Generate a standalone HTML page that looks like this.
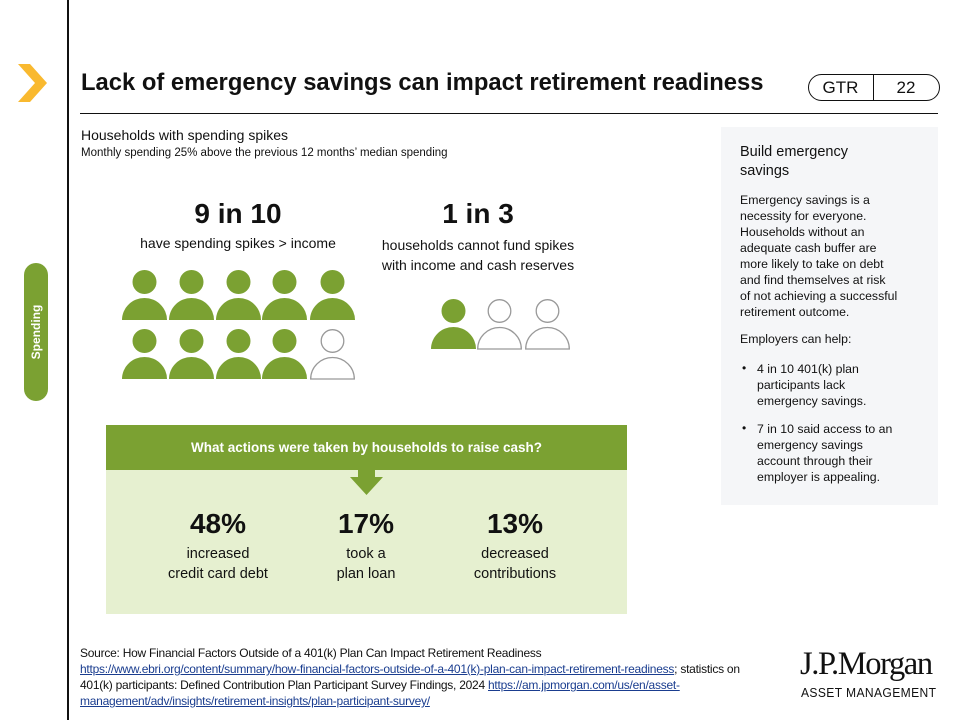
<!DOCTYPE html>
<html><head><meta charset="utf-8"><style>
*{margin:0;padding:0;box-sizing:border-box}
body{width:960px;height:720px;background:#fff;position:relative;overflow:hidden;font-family:"Liberation Sans",sans-serif;color:#111}
.a{position:absolute;white-space:nowrap}
.c{text-align:center}
a{color:#1a3d8f;text-decoration:underline}
</style></head><body>
<div class="a" style="left:67px;top:0;width:1.5px;height:720px;background:#111"></div>
<svg class="a" style="left:16px;top:62px" width="34" height="44"><polygon points="2,2 14,2 31,21 14,40 2,40 19,21" fill="#f9b92f"/></svg>
<div class="a" style="left:24px;top:263px;width:24px;height:138px;border-radius:12px;background:#7ba132"></div>
<div class="a" style="left:36px;top:332px;transform:translate(-50%,-50%) rotate(-90deg);color:#fff;font-weight:bold;font-size:12px">Spending</div>
<div class="a" style="left:81px;top:69px;font-size:23.8px;font-weight:bold">Lack of emergency savings can impact retirement readiness</div>
<div class="a" style="left:808px;top:74px;width:132px;height:27px;border:1.3px solid #111;border-radius:14px"></div>
<div class="a" style="left:873px;top:74px;width:1.3px;height:27px;background:#111"></div>
<div class="a c" style="left:808px;top:78px;width:65px;font-size:17px">GTR</div>
<div class="a c" style="left:874px;top:78px;width:64px;font-size:17px">22</div>
<div class="a" style="left:80px;top:113px;width:858px;height:1.3px;background:#111"></div>
<div class="a" style="left:81px;top:127px;font-size:14px">Households with spending spikes</div>
<div class="a" style="left:81px;top:147px;font-size:11.5px">Monthly spending 25% above the previous 12 months’ median spending</div>
<div class="a c" style="left:118px;top:198px;width:240px;font-size:28px;font-weight:bold">9 in 10</div>
<div class="a c" style="left:108px;top:235px;width:260px;font-size:14px">have spending spikes &gt; income</div>
<div class="a c" style="left:378px;top:198px;width:200px;font-size:28px;font-weight:bold">1 in 3</div>
<div class="a c" style="left:368px;top:235px;width:220px;font-size:14px;line-height:20px;white-space:normal">households cannot fund spikes with income and cash reserves</div>
<svg class="a" style="left:0;top:0" width="700" height="420">
<defs>
<g id="pf"><circle cx="22.5" cy="0" r="12" fill="#7ba132"/><path d="M0,38 A22.5,22 0 0 1 45,38 Z" fill="#7ba132"/></g>
<g id="po"><circle cx="22.5" cy="0" r="11.3" fill="none" stroke="#999" stroke-width="1.3"/><path d="M0.7,38 A21.8,21.5 0 0 1 44.3,38 Z" fill="none" stroke="#999" stroke-width="1.3"/></g>
</defs>
<use href="#pf" x="122" y="282"/><use href="#pf" x="169" y="282"/><use href="#pf" x="216" y="282"/><use href="#pf" x="262" y="282"/><use href="#pf" x="310" y="282"/>
<use href="#pf" x="122" y="341"/><use href="#pf" x="169" y="341"/><use href="#pf" x="216" y="341"/><use href="#pf" x="262" y="341"/><use href="#po" x="310" y="341"/>
<use href="#pf" x="431" y="311"/><use href="#po" x="477" y="311"/><use href="#po" x="525" y="311"/>
</svg>
<div class="a" style="left:106px;top:425px;width:521px;height:45px;background:#7ba132"></div>
<div class="a c" style="left:106px;top:440px;width:521px;color:#fff;font-weight:bold;font-size:13.5px">What actions were taken by households to raise cash?</div>
<div class="a" style="left:106px;top:470px;width:521px;height:144px;background:#e6f0d0"></div>
<svg class="a" style="left:348px;top:470px" width="40" height="26"><polygon points="10,0 27,0 27,7 35,7 18.5,25 2,7 10,7" fill="#7ba132"/></svg>
<div class="a c" style="left:138px;top:508px;width:160px;font-size:28px;font-weight:bold">48%</div>
<div class="a c" style="left:138px;top:544px;width:160px;font-size:14.5px;line-height:20px">increased<br>credit card debt</div>
<div class="a c" style="left:286px;top:508px;width:160px;font-size:28px;font-weight:bold">17%</div>
<div class="a c" style="left:286px;top:544px;width:160px;font-size:14.5px;line-height:20px">took a<br>plan loan</div>
<div class="a c" style="left:435px;top:508px;width:160px;font-size:28px;font-weight:bold">13%</div>
<div class="a c" style="left:435px;top:544px;width:160px;font-size:14.5px;line-height:20px">decreased<br>contributions</div>
<div class="a" style="left:721px;top:127px;width:217px;height:378px;background:#f5f6f8"></div>
<div class="a" style="left:740px;top:143px;font-size:14.5px;line-height:19px">Build emergency<br>savings</div>
<div class="a" style="left:740px;top:192px;font-size:12.3px;line-height:16px">Emergency savings is a<br>necessity for everyone.<br>Households without an<br>adequate cash buffer are<br>more likely to take on debt<br>and find themselves at risk<br>of not achieving a successful<br>retirement outcome.</div>
<div class="a" style="left:740px;top:332px;font-size:12.3px">Employers can help:</div>
<div class="a" style="left:742px;top:361px;font-size:12px">•</div>
<div class="a" style="left:757px;top:361px;font-size:12.3px;line-height:16px">4 in 10 401(k) plan<br>participants lack<br>emergency savings.</div>
<div class="a" style="left:742px;top:421px;font-size:12px">•</div>
<div class="a" style="left:757px;top:421px;font-size:12.3px;line-height:16px">7 in 10 said access to an<br>emergency savings<br>account through their<br>employer is appealing.</div>
<div class="a" style="left:80px;top:645px;font-size:12px;line-height:16px;letter-spacing:-0.25px">Source: How Financial Factors Outside of a 401(k) Plan Can Impact Retirement Readiness<br><a>https://www.ebri.org/content/summary/how-financial-factors-outside-of-a-401(k)-plan-can-impact-retirement-readiness</a>; statistics on<br>401(k) participants: Defined Contribution Plan Participant Survey Findings, 2024 <a>https://am.jpmorgan.com/us/en/asset-</a><br><a>management/adv/insights/retirement-insights/plan-participant-survey/</a></div>
<div class="a" style="left:800px;top:646px;font-family:'Liberation Serif',serif;font-size:32.5px;letter-spacing:-1.4px">J.P.Morgan</div>
<div class="a" style="left:801px;top:685px;font-size:13px;letter-spacing:0.4px;transform:scaleX(0.93);transform-origin:left top">ASSET MANAGEMENT</div>
</body></html>
